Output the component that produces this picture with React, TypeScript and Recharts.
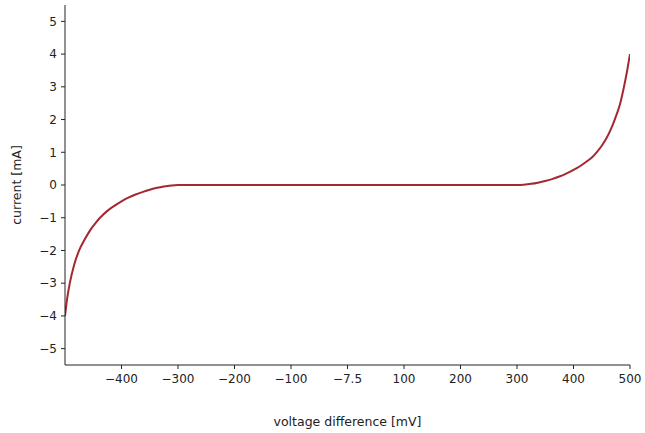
import { Label, Line, LineChart, XAxis, YAxis } from "recharts";

// voltage difference [mV] and current [mA]
const voltage = [
  -500, -496, -491.5, -484, -475, -465, -455, -445, -438, -425, -412, -400, -387, -375, -362, -350, -337, -325, -312, -300,
  -100, 100,
  300, 312, 325, 337, 350, 362, 375, 387, 400, 412, 425, 433, 441, 450, 458, 466, 473, 482, 489, 495, 500,
];
const current = [
  -4, -3.45, -3.0, -2.45, -2.0, -1.66, -1.37, -1.14, -1.0, -0.79, -0.63, -0.5, -0.38, -0.29, -0.21, -0.145, -0.085, -0.045, -0.015, 0,
  0, 0,
  0, 0.01, 0.035, 0.07, 0.12, 0.18, 0.26, 0.35, 0.46, 0.58, 0.74, 0.85, 1.0, 1.2, 1.42, 1.7, 2.0, 2.45, 2.97, 3.5, 4,
];

const xTicks = [-400, -300, -200, -100, 0, 100, 200, 300, 400, 500];
const xTickLabels = ["-400", "-300", "-200", "-100", "-7.5", "100", "200", "300", "400", "500"];
const yTicks = [-5, -4, -3, -2, -1, 0, 1, 2, 3, 4, 5];

const data = voltage.map((v, i) => ({ v, i: current[i] }));

const minus = (s: string) => s.replace("-", "\u2212");
const font = { fontFamily: "DejaVu Sans", fontSize: 12, fill: "#222" };
const labelFont = { ...font, fontSize: 12.5 };

export default function App() {
  return (
    <div style={{ position: "absolute", left: 0, top: 0, background: "#fff" }}>
      <LineChart width={645} height={433} data={data} margin={{ top: 5, right: 15, bottom: 0, left: 0 }}>
        <XAxis
          dataKey="v"
          type="number"
          domain={[-500, 500]}
          ticks={xTicks}
          tickFormatter={(t: number) => minus(xTickLabels[xTicks.indexOf(t)] ?? String(t))}
          height={68}
          tickSize={4}
          tickMargin={5}
          stroke="#222"
          tick={font}
          allowDataOverflow
        >
          <Label value="voltage difference [mV]" position="insideBottom" offset={7} style={labelFont} />
        </XAxis>
        <YAxis
          type="number"
          domain={[-5.5, 5.5]}
          ticks={yTicks}
          tickFormatter={(t: number) => minus(String(t))}
          width={65}
          tickSize={4}
          tickMargin={4}
          stroke="#222"
          tick={font}
          allowDataOverflow
        >
          <Label value="current [mA]" angle={-90} position="insideLeft" offset={17} style={{ ...labelFont, textAnchor: "middle" }} />
        </YAxis>
        <Line
          dataKey="i"
          type="monotone"
          stroke="#a3282f"
          strokeWidth={2}
          dot={false}
          isAnimationActive={false}
        />
      </LineChart>
    </div>
  );
}
